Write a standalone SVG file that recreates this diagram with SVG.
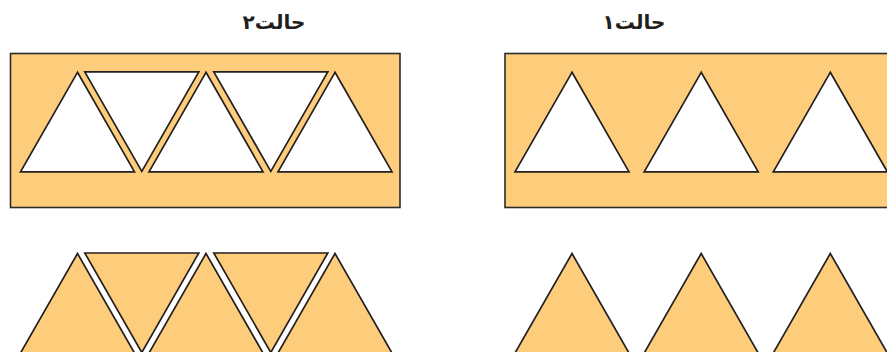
<svg xmlns="http://www.w3.org/2000/svg" xmlns:xlink="http://www.w3.org/1999/xlink" width="887" height="352" viewBox="0 0 887 352">
<style>
.board{fill:#FECD7C;stroke:#2b2b2b;stroke-width:1.6}
.hole{fill:#FFFFFF;stroke:#231F20;stroke-width:1.7;stroke-linejoin:miter}
.piece{fill:#FECD7C;stroke:#231F20;stroke-width:1.7;stroke-linejoin:miter}
.lbl{font-family:"DejaVu Sans","Noto Sans",sans-serif;font-weight:bold;font-size:20px;fill:#231F20}
</style>
<defs>
<polygon id="up" points="0,0 -57,99.5 57,99.5"/>
<polygon id="dn" points="-57,0 57,0 0,99.5"/>
</defs>
<rect width="887" height="352" fill="#FFFFFF"/>
<g id="label2"><text class="lbl" x="274" y="29" text-anchor="middle">حالت۲</text></g>
<g id="label1"><text class="lbl" x="634" y="29" text-anchor="middle">حالت۱</text></g>
<g id="board2">
<rect class="board" x="10.5" y="53.5" width="389.5" height="154"/>
<use class="hole" xlink:href="#up" x="77.5" y="72.3"/>
<use class="hole" xlink:href="#dn" x="141.8" y="71.8"/>
<use class="hole" xlink:href="#up" x="206" y="72.3"/>
<use class="hole" xlink:href="#dn" x="270.8" y="71.8"/>
<use class="hole" xlink:href="#up" x="335" y="72.3"/>
</g>
<g id="board1">
<rect class="board" x="505" y="53.5" width="390" height="154"/>
<use class="hole" xlink:href="#up" x="572" y="72.3"/>
<use class="hole" xlink:href="#up" x="701.2" y="72.3"/>
<use class="hole" xlink:href="#up" x="830.3" y="72.3"/>
</g>
<g id="pieces2">
<use class="piece" xlink:href="#up" x="77.5" y="253.5"/>
<use class="piece" xlink:href="#dn" x="141.8" y="253"/>
<use class="piece" xlink:href="#up" x="206" y="253.5"/>
<use class="piece" xlink:href="#dn" x="270.8" y="253"/>
<use class="piece" xlink:href="#up" x="335" y="253.5"/>
</g>
<g id="pieces1">
<use class="piece" xlink:href="#up" x="572" y="253.5"/>
<use class="piece" xlink:href="#up" x="701.2" y="253.5"/>
<use class="piece" xlink:href="#up" x="830.3" y="253.5"/>
</g>
</svg>
